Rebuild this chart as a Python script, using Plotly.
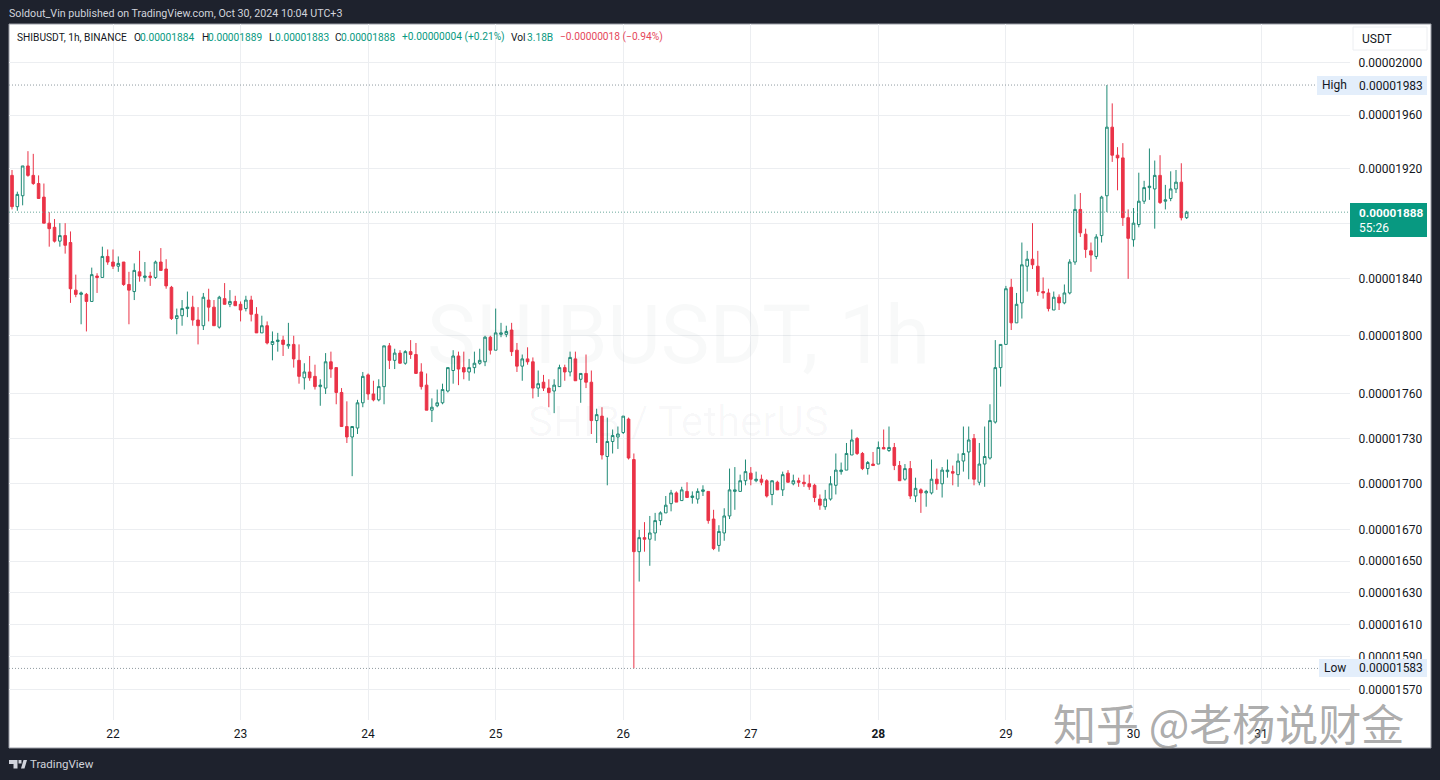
import pandas as pd
import plotly.graph_objects as go

# prices are in units of 0.00000001 USDT
opens = [1915,1892,1900,1922,1915,1909,1899,1880,1877,1867,1871,1866,1832,1829,1829,1824,1842,1841,1856,1852,
 1849,1852,1836,1831,1845,1841,1842,1841,1852,1847,1834,1812,1814,1819,1820,1811,1807,1825,1820,1806,
 1826,1822,1824,1822,1819,1825,1815,1802,1807,1794,1796,1797,1793,1794,1783,1771,1775,1772,1765,1764,
 1782,1778,1761,1738,1731,1737,1754,1773,1760,1756,1765,1793,1783,1788,1781,1789,1787,1775,1766,1749,
 1752,1754,1762,1776,1786,1778,1775,1778,1781,1782,1799,1790,1801,1801,1804,1790,1779,1784,1782,1764,
 1768,1764,1762,1765,1778,1775,1784,1770,1774,1768,1742,1745,1718,1728,1731,1734,1743,1716,1656,1665,
 1664,1668,1676,1681,1687,1694,1689,1695,1691,1690,1695,1695,1677,1660,1668,1679,1695,1695,1702,1707,
 1702,1703,1702,1693,1701,1696,1707,1700,1702,1701,1700,1699,1690,1685,1690,1699,1708,1709,1719,1730,
 1720,1710,1713,1713,1724,1722,1724,1712,1703,1710,1692,1696,1694,1694,1703,1700,1708,1708,1706,1715,
 1721,1730,1701,1713,1717,1741,1778,1794,1834,1809,1823,1849,1854,1849,1831,1830,1818,1827,1823,1830,
 1852,1890,1872,1860,1856,1871,1900,1951,1930,1928,1884,1868,1879,1896,1906,1905,1915,1896,1898,1905,
 1910,1884]
highs = [1919,1903,1922,1933,1931,1915,1909,1888,1883,1880,1880,1874,1843,1831,1830,1848,1844,1863,1861,1861,
 1856,1852,1845,1851,1860,1852,1845,1853,1862,1854,1835,1819,1825,1831,1828,1820,1830,1833,1825,1828,
 1837,1832,1828,1824,1828,1828,1820,1814,1810,1803,1802,1800,1809,1800,1794,1781,1786,1780,1770,1788,
 1789,1778,1764,1755,1738,1756,1775,1774,1769,1770,1793,1795,1791,1790,1790,1797,1795,1781,1774,1757,
 1763,1767,1778,1790,1789,1789,1784,1789,1791,1800,1800,1819,1809,1807,1809,1795,1787,1792,1785,1776,
 1773,1770,1770,1780,1780,1789,1789,1774,1787,1776,1750,1751,1744,1736,1738,1745,1744,1720,1670,1675,
 1679,1681,1682,1692,1696,1695,1698,1701,1695,1697,1699,1695,1683,1673,1684,1710,1711,1706,1716,1711,
 1708,1706,1703,1702,1702,1708,1709,1706,1704,1706,1706,1700,1693,1696,1705,1720,1714,1727,1736,1731,
 1721,1715,1721,1728,1736,1738,1727,1715,1713,1715,1704,1697,1696,1716,1710,1711,1716,1712,1720,1738,
 1738,1733,1727,1738,1753,1797,1794,1835,1840,1830,1866,1860,1880,1860,1841,1833,1831,1829,1836,1854,
 1901,1902,1876,1866,1872,1900,1983,1969,1936,1939,1890,1891,1917,1911,1935,1926,1930,1908,1918,1919,
 1924,1889]
lows = [1890,1889,1893,1914,1908,1898,1880,1863,1866,1863,1858,1823,1827,1808,1803,1824,1830,1841,1850,1847,
 1845,1835,1808,1825,1838,1838,1835,1840,1846,1833,1811,1801,1807,1813,1807,1794,1804,1810,1807,1805,
 1822,1820,1821,1810,1817,1810,1802,1802,1794,1783,1789,1786,1791,1778,1767,1763,1769,1763,1752,1760,
 1771,1753,1738,1727,1705,1733,1751,1756,1755,1755,1753,1777,1777,1781,1780,1784,1774,1763,1749,1741,
 1751,1753,1761,1767,1766,1770,1769,1774,1780,1779,1787,1790,1799,1799,1786,1775,1769,1780,1757,1758,
 1762,1751,1747,1765,1769,1772,1769,1754,1764,1733,1727,1716,1699,1720,1723,1733,1716,1583,1637,1656,
 1647,1663,1673,1681,1682,1688,1689,1691,1687,1687,1692,1674,1657,1656,1663,1677,1683,1695,1699,1699,
 1701,1699,1691,1686,1696,1692,1701,1699,1698,1698,1696,1688,1683,1683,1689,1693,1706,1709,1719,1719,
 1709,1706,1712,1713,1723,1721,1709,1702,1702,1690,1688,1681,1685,1693,1696,1691,1704,1699,1698,1708,
 1703,1699,1699,1698,1716,1740,1765,1794,1804,1809,1812,1831,1847,1828,1826,1817,1818,1818,1822,1829,
 1850,1870,1855,1845,1854,1866,1888,1925,1904,1878,1840,1863,1877,1894,1897,1876,1894,1890,1896,1902,
 1882,1883]
closes = [1892,1901,1922,1915,1909,1898,1880,1876,1867,1871,1864,1833,1829,1830,1824,1843,1841,1856,1852,1849,
 1851,1836,1832,1846,1842,1842,1841,1852,1846,1835,1812,1814,1819,1820,1811,1807,1827,1820,1807,1827,
 1822,1824,1821,1818,1825,1815,1802,1807,1795,1796,1797,1794,1794,1784,1772,1775,1771,1765,1766,1782,
 1777,1761,1738,1731,1738,1754,1772,1760,1756,1765,1793,1783,1788,1781,1789,1787,1774,1765,1749,1751,
 1754,1763,1778,1786,1777,1775,1778,1781,1783,1799,1790,1802,1802,1803,1789,1779,1784,1782,1764,1767,
 1764,1761,1766,1778,1775,1785,1769,1774,1768,1742,1746,1719,1728,1732,1733,1745,1717,1656,1665,1664,
 1668,1676,1681,1686,1694,1688,1696,1691,1692,1695,1696,1676,1658,1669,1679,1696,1696,1702,1708,1703,
 1703,1701,1692,1702,1696,1706,1701,1702,1701,1700,1698,1691,1686,1690,1700,1709,1709,1720,1729,1720,
 1710,1714,1712,1724,1723,1724,1712,1702,1710,1692,1697,1694,1695,1703,1700,1709,1709,1707,1715,1720,
 1729,1703,1713,1718,1742,1778,1794,1833,1809,1822,1850,1854,1850,1831,1830,1819,1827,1823,1830,1852,
 1890,1873,1861,1857,1870,1899,1951,1930,1928,1884,1869,1880,1896,1906,1907,1915,1895,1897,1905,1910,
 1884,1888]

price_ticks = [2000,1960,1920,1880,1840,1800,1760,1730,1700,1670,1650,1630,1610,1590,1570]
price_labels = ["0.00002000","0.00001960","0.00001920","","0.00001840","0.00001800","0.00001760","0.00001730",
                "0.00001700","0.00001670","0.00001650","0.00001630","0.00001610","0.00001590","0.00001570"]
day_ticks = ["2024-10-22","2024-10-23","2024-10-24","2024-10-25","2024-10-26","2024-10-27","2024-10-28","2024-10-29","2024-10-30","2024-10-31"]
day_labels = ["22","23","24","25","26","27","<b>28</b>","29","30","31"]
SCALE = 1e-8
HIGH, LOW, LAST = 1983, 1583, 1888

W, H = 1440, 780
px = lambda v: v / W
py = lambda v: 1 - v / H
times = pd.date_range("2024-10-21 05:00", periods=len(opens), freq="h")
day0 = pd.Timestamp("2024-10-22")
PX_PER_HOUR = 5.315
x_left, x_right = 9, 1350
y_top, y_bot = 24, 720
r0 = day0 + pd.Timedelta(hours=(x_left - 113) / PX_PER_HOUR)
r1 = day0 + pd.Timedelta(hours=(x_right - 113) / PX_PER_HOUR)

UP, DOWN = "#1f8a76", "#ea3347"
fig = go.Figure(go.Candlestick(
    x=times,
    open=[v * SCALE for v in opens], high=[v * SCALE for v in highs],
    low=[v * SCALE for v in lows], close=[v * SCALE for v in closes],
    increasing=dict(line=dict(color=UP, width=1), fillcolor="#ffffff"),
    decreasing=dict(line=dict(color=DOWN, width=1), fillcolor=DOWN),
    whiskerwidth=0, showlegend=False, hoverinfo="skip",
))

GRID = "#eceef1"
fig.update_layout(
    width=W, height=H, autosize=False, margin=dict(l=0, r=0, t=0, b=0),
    paper_bgcolor="#1e222d", plot_bgcolor="#ffffff", showlegend=False,
    font=dict(family="Roboto", size=12, color="#131722"),
    xaxis=dict(type="date", domain=[px(x_left), px(x_right)], range=[r0, r1],
               rangeslider=dict(visible=False), tickmode="array", tickvals=day_ticks, ticktext=day_labels,
               showgrid=True, gridcolor=GRID, gridwidth=1, showline=False, zeroline=False,
               ticks="outside", ticklen=3, tickcolor="rgba(0,0,0,0)", tickangle=0,
               tickfont=dict(family="Roboto", size=12, color="#131722")),
    yaxis=dict(type="log", side="right", domain=[py(y_bot), py(y_top)],
               range=[-4.80917, -4.69244], tickmode="array",
               tickvals=[v * SCALE for v in price_ticks], ticktext=price_labels,
               showgrid=True, gridcolor=GRID, gridwidth=1, showline=False, zeroline=False,
               ticks="outside", ticklen=5, tickcolor="rgba(0,0,0,0)",
               tickfont=dict(family="Roboto", size=12, color="#131722")),
)

def rect(x0, y0, x1, y1, fill, line=None, layer="above"):
    fig.add_shape(type="rect", xref="paper", yref="paper", x0=px(x0), x1=px(x1), y0=py(y0), y1=py(y1),
                  fillcolor=fill, line=dict(color=line or fill, width=1 if line else 0), layer=layer)

def text(x, y, s, color="#131722", size=12, anchor="left", family="Roboto"):
    fig.add_annotation(xref="paper", yref="paper", x=px(x), y=py(y), text=s, showarrow=False,
                       xanchor=anchor, yanchor="middle", xshift=0, borderpad=0,
                       font=dict(family=family, size=size, color=color))

# white panel behind everything
rect(9, 24, 1431, 748, "#ffffff", "#9a9da6", layer="below")

# watermark
text(678, 335, "SHIBUSDT, 1h", "rgba(40,50,70,0.03)", 82, "center")
text(678, 421, "SHIB / TetherUS", "rgba(40,50,70,0.03)", 42, "center")

# dotted level lines
for level, end, colr in [(HIGH, 1317, "#8f9aa0"), (LOW, 1319, "#8f9aa0"), (LAST, 1350, "#6aa89c")]:
    fig.add_shape(type="line", xref="paper", yref="y", x0=px(x_left), x1=px(end),
                  y0=level * SCALE, y1=level * SCALE,
                  line=dict(color=colr, width=1, dash="1px,2px"), layer="above")

# high / low / last price labels
rect(1317, 76, 1427, 95, "#e3eefb")
text(1321, 85, "High")
text(1358, 86, "0.00001983")
rect(1319, 659, 1427, 677, "#e3eefb")
text(1323, 668, "Low")
text(1358, 668, "0.00001583")
rect(1350, 203, 1427, 237, "#089981")
text(1358, 213, "<b>0.00001888</b>", "#ffffff", 11.8)
text(1358, 227.5, "55:26", "#ffffff", 12)

# currency box
rect(1353, 27, 1427, 50, "#ffffff", "#eceef1")
text(1361, 39, "USDT")

# top line
text(8, 13, "Soldout_Vin published on TradingView.com, Oct 30, 2024 10:04 UTC+3", "#d1d4dc", 10.7)

# legend row
G, R, K = "#089981", "#e5475b", "#131722"
for x, s, c in [(16, "SHIBUSDT, 1h, BINANCE", K), (133, "O", K), (139, "0.00001884", G), (201, "H", K), (207, "0.00001889", G),
                (268, "L", K), (274, "0.00001883", G), (334, "C", K), (340, "0.00001888", G),
                (401, "+0.00000004 (+0.21%)", G), (510, "Vol", K), (525.5, "3.18B", G),
                (559, "−0.00000018 (−0.94%)", R)]:
    text(x, 37, s, c, 10.2)

# footer
text(29, 764, "TradingView", "#d1d4dc", 11.5)
fx = lambda v: round(px(v), 6)
fy = lambda v: round(py(v), 6)
logo = (f"M{fx(9)},{fy(760)} H{fx(17.5)} V{fy(768.5)} H{fx(13.5)} V{fy(764)} H{fx(9)} Z "
        f"M{fx(21)},{fy(768.5)} L{fx(23.5)},{fy(760)} H{fx(27)} L{fx(24.5)},{fy(768.5)} Z "
        f"M{fx(18.5)},{fy(760)} H{fx(21.5)} V{fy(763.5)} H{fx(18.5)} Z")
fig.add_shape(type="path", xref="paper", yref="paper", path=logo, fillcolor="#d1d4dc", line=dict(width=0), layer="above")

# site watermark
text(1228, 722, "知乎 @老杨说财金", "rgba(120,120,120,0.62)", 43, "center", "Noto Sans CJK SC")

fig.write_html("out.html", config=dict(displayModeBar=False),
               post_script="document.body.style.margin='0';document.body.style.overflow='hidden';")
